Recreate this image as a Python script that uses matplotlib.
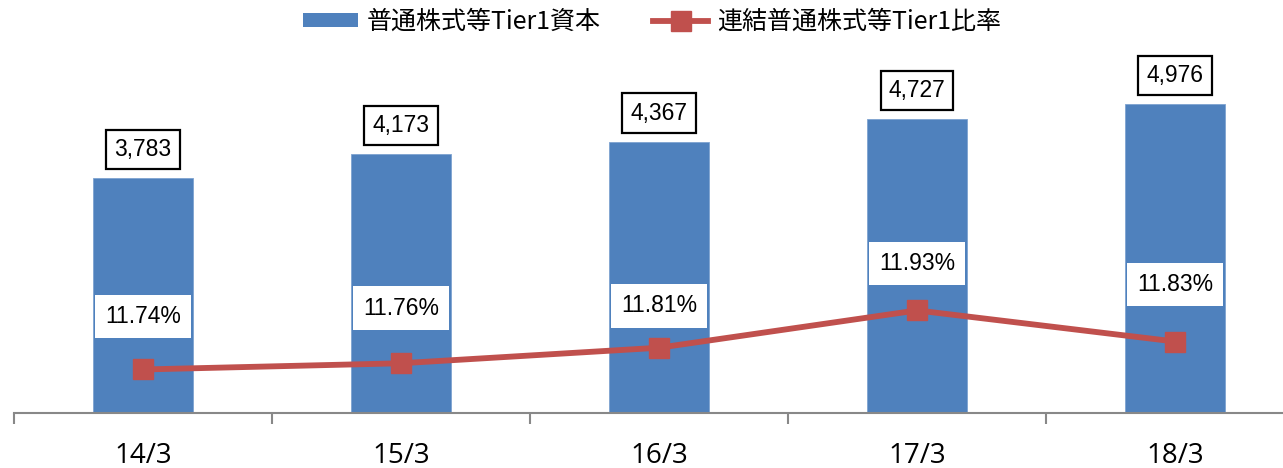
import matplotlib
matplotlib.use("Agg")
import matplotlib.pyplot as plt
from matplotlib import font_manager as fm
from matplotlib.lines import Line2D
from matplotlib.patches import Patch

categories = ["14/3", "15/3", "16/3", "17/3", "18/3"]
tier1_capital = [3783, 4173, 4367, 4727, 4976]
tier1_ratio = [11.74, 11.76, 11.81, 11.93, 11.83]
capital_labels = ["3,783", "4,173", "4,367", "4,727", "4,976"]
ratio_labels = ["11.74%", "11.76%", "11.81%", "11.93%", "11.83%"]
legend_labels = ["普通株式等Tier1資本", "連結普通株式等Tier1比率"]

# label offsets above the markers (pixels)
ratio_label_offsets_px = [53, 55, 42, 47, 57]

names = {f.name for f in fm.fontManager.ttflist}
narrow = "Liberation Sans Narrow" if "Liberation Sans Narrow" in names else "Liberation Sans"
cjk = "Noto Sans CJK JP"
num_font = [narrow, cjk, "DejaVu Sans"]
leg_font = [cjk, "DejaVu Sans"]
tick_font = ["Open Sans", "Liberation Sans", "DejaVu Sans"]

BAR = "#4F81BD"
LINE = "#C0504D"
AXC = "#888888"

W, H, DPI = 1283, 468, 100
fig = plt.figure(figsize=(W / DPI, H / DPI), dpi=DPI)
px = 72.0 / DPI

left_px, right_px, top_px, bot_px = 14, 1304, 40, 413
ax = fig.add_axes([left_px / W, (H - bot_px) / H, (right_px - left_px) / W, (bot_px - top_px) / H])
x = list(range(len(categories)))
ax.bar(x, tier1_capital, width=0.39, color=BAR, edgecolor="#7EA3D1", linewidth=0.6, zorder=2)
ax.set_xlim(-0.5, len(categories) - 0.5)
ax.set_ylim(0, 6000)
for s in ["top", "left", "right"]:
    ax.spines[s].set_visible(False)
ax.spines["bottom"].set_color(AXC)
ax.spines["bottom"].set_linewidth(1.5)
ax.set_yticks([])
ax.set_xticks([i - 0.5 for i in range(len(categories) + 1)])
ax.set_xticklabels([])
ax.tick_params(axis="x", which="major", length=11 * px, width=1.5, color=AXC, direction="out")
ax.set_xticks(x, minor=True)
ax.set_xticklabels(categories, minor=True, fontsize=20, family=tick_font, color="#000000")
ax.tick_params(axis="x", which="minor", length=0, pad=21)

for xi, v, lab in zip(x, tier1_capital, capital_labels):
    ax.annotate(lab, (xi, v), xytext=(0, 28.5 * px), textcoords="offset points",
                ha="center", va="center", fontsize=16.5, family=num_font,
                bbox=dict(boxstyle="square,pad=0.35", fc="white", ec="black", lw=1.6), zorder=5)

ax2 = ax.twinx()
ax2.set_ylim(11.6, 12.8)
ax2.set_xlim(-0.5, len(categories) - 0.5)
ax2.axis("off")
ax2.plot(x, tier1_ratio, color=LINE, lw=4.2, marker="s", markersize=14, zorder=3)
for xi, v, lab, off in zip(x, tier1_ratio, ratio_labels, ratio_label_offsets_px):
    ax2.annotate(lab, (xi, v), xytext=(0, off * px), textcoords="offset points",
                 ha="center", va="center", fontsize=16.5, family=num_font,
                 bbox=dict(boxstyle="square,pad=0.45", fc="white", ec="none"), zorder=5)

handles = [Patch(facecolor=BAR, edgecolor="none"),
           Line2D([], [], color=LINE, lw=4.2, marker="s", markersize=14)]
leg = fig.legend(handles, legend_labels, loc="center", bbox_to_anchor=(652 / W, 1 - 22 / H),
                 ncol=2, frameon=False, prop=fm.FontProperties(family=leg_font, size=18),
                 handlelength=2.2, handleheight=0.5, handletextpad=0.35, columnspacing=2.1,
                 borderpad=0)

fig.savefig("out.png", dpi=DPI)
